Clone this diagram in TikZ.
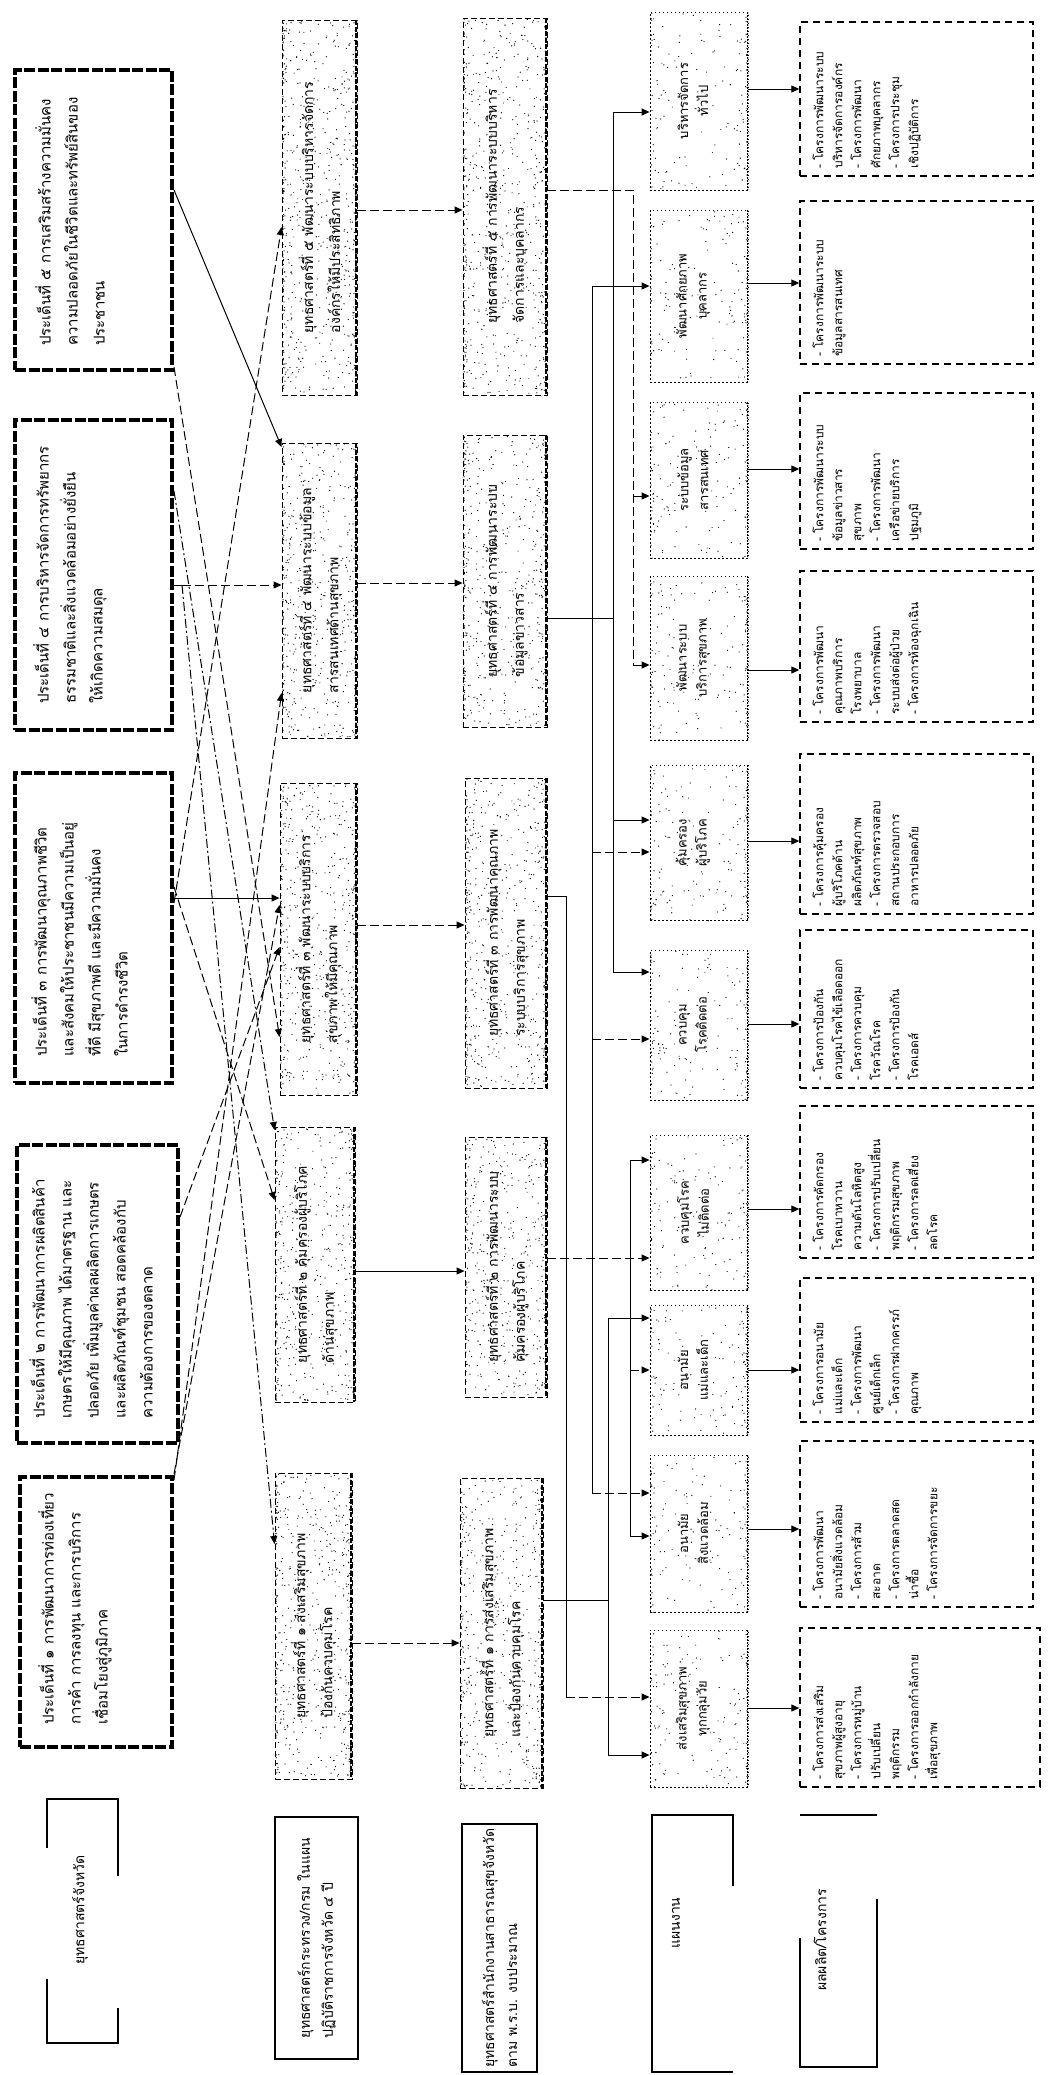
\documentclass[tikz,border=0pt]{standalone}
\usepackage{fontspec}
\newfontfamily\thai[Script=Thai]{Loma}
\usetikzlibrary{arrows.meta,fit,calc}
% random speckle inside a box: x1 y1 x2 y2 edge-count uniform-count
\newcommand\speckle[6]{%
  \foreach \i in {1,...,#5}{%
    \pgfmathsetmacro\gx{#1+(#3-#1)*rnd^3}\pgfmathsetmacro\gy{#2+(#4-#2)*rnd}%
    \fill (\gx,\gy) circle (0.65pt);
    \pgfmathsetmacro\gx{#3-(#3-#1)*rnd^3}\pgfmathsetmacro\gy{#2+(#4-#2)*rnd}%
    \fill (\gx,\gy) circle (0.65pt);}%
  \foreach \i in {1,...,#6}{%
    \pgfmathsetmacro\gx{#1+(#3-#1)*rnd}\pgfmathsetmacro\gy{#2+(#4-#2)*rnd}%
    \fill (\gx,\gy) circle (0.55pt);}%
}
\begin{document}
\begin{tikzpicture}[x=1pt,y=-1pt,
  r1/.style={draw, line width=4pt, dash pattern=on 11pt off 2.5pt, inner sep=0pt},
  r2/.style={draw, line width=0.9pt, dash pattern=on 6pt off 3pt, inner sep=0pt,
     path picture={\draw[line width=4pt, dash pattern=on 5pt off 1.5pt] (path picture bounding box.north east) -- (path picture bounding box.south east);}},
  r4/.style={draw, line width=0.9pt, dash pattern=on 1.5pt off 2.5pt, inner sep=0pt,
     path picture={\draw[line width=3pt, dash pattern=on 1.5pt off 1.5pt] (path picture bounding box.north east) -- (path picture bounding box.south east);}},
  r5/.style={draw, line width=1.4pt, dash pattern=on 7pt off 5pt, inner sep=0pt},
  lbl/.style={line width=1.2pt},
  lbox/.style={draw, line width=1.2pt, inner sep=0pt},
  t1/.style={rotate=90, align=left, inner sep=0pt, font=\thai\fontsize{15}{27}\selectfont},
  t2/.style={rotate=90, align=left, inner sep=0pt, font=\thai\fontsize{14}{27}\selectfont},
  t4/.style={rotate=90, align=center, inner sep=0pt, font=\thai\fontsize{13}{20}\selectfont},
  t5/.style={rotate=90, align=left, inner sep=0pt, font=\thai\fontsize{12}{19}\selectfont},
  tl/.style={rotate=90, align=center, inner sep=0pt, font=\thai\fontsize{14}{23}\selectfont},
  arr/.style={-{Triangle[length=8pt,width=7pt]}, line width=1pt},
  ln/.style={line width=1pt},
  dsh/.style={dash pattern=on 9pt off 4pt},
  dd/.style={dash pattern=on 9pt off 3pt on 2pt off 3pt}
]
\pgfmathsetseed{4242}
\useasboundingbox (0,0) rectangle (1050,2075);

% ---------- Row 1: provincial strategies ----------
\node[r1, fit={(15,70)(172,370)}] (b1) {};
\node[t1, anchor=north west] (b1t) at ($(b1.south west)+(22,-26)$)
 {ประเด็นที่ ๕ การเสริมสร้างความมั่นคง\\ความปลอดภัยในชีวิตและทรัพย์สินของ\\ประชาชน};
\node[r1, fit={(15,420)(172,730)}] (b2) {};
\node[t1, anchor=north west] (b2t) at ($(b2.south west)+(20,-28)$)
 {ประเด็นที่ ๔ การบริหารจัดการทรัพยากร\\ธรรมชาติและสิ่งแวดล้อมอย่างยั่งยืน\\ให้เกิดความสมดุล};
\node[r1, fit={(15,773)(172,1083)}] (b3) {};
\node[t1, anchor=north west] (b3t) at ($(b3.south west)+(18,-28)$)
 {ประเด็นที่ ๓ การพัฒนาคุณภาพชีวิต\\และสังคมให้ประชาชนมีความเป็นอยู่\\ที่ดี มีสุขภาพดี และมีความมั่นคง\\ในการดำรงชีวิต};
\node[r1, fit={(17,1145)(178,1443)}] (b4) {};
\node[t1, anchor=north west] (b4t) at ($(b4.south west)+(14,-26)$)
 {ประเด็นที่ ๒ การพัฒนาการผลิตสินค้า\\เกษตรให้มีคุณภาพ ได้มาตรฐาน และ\\ปลอดภัย เพิ่มมูลค่าผลผลิตการเกษตร\\และผลิตภัณฑ์ชุมชน สอดคล้องกับ\\ความต้องการของตลาด};
\node[r1, fit={(20,1477)(172,1747)}] (b5) {};
\node[t1, anchor=north west] (b5t) at ($(b5.south west)+(20,-24)$)
 {ประเด็นที่ ๑ การพัฒนาการท่องเที่ยว\\การค้า การลงทุน และการบริการ\\เชื่อมโยงสู่ภูมิภาค};

% ---------- Row 2 ----------
\node[r2, fit={(282,20)(357,395)}] (r2a) {};
\speckle{283}{21}{356}{394}{260}{110}
\node[t2] (r2at) at (r2a.center) {ยุทธศาสตร์ที่ ๕ พัฒนาระบบบริหารจัดการ\\องค์กรให้มีประสิทธิภาพ};
\node[r2, fit={(282,443)(357,738)}] (r2b) {};
\speckle{283}{444}{356}{737}{210}{90}
\node[t2] (r2bt) at (r2b.center) {ยุทธศาสตร์ที่ ๔ พัฒนาระบบข้อมูล\\สารสนเทศด้านสุขภาพ};
\node[r2, fit={(280,783)(357,1095)}] (r2c) {};
\speckle{281}{784}{356}{1094}{220}{95}
\node[t2] (r2ct) at (r2c.center) {ยุทธศาสตร์ที่ ๓ พัฒนาระบบบริการ\\สุขภาพให้มีคุณภาพ};
\node[r2, fit={(275,1127)(355,1402)}] (r2d) {};
\speckle{276}{1128}{354}{1401}{200}{85}
\node[t2] (r2dt) at (r2d.center) {ยุทธศาสตร์ที่ ๒ คุ้มครองผู้บริโภค\\ด้านสุขภาพ};
\node[r2, fit={(275,1473)(352,1779)}] (r2e) {};
\speckle{276}{1474}{351}{1778}{220}{95}
\node[t2] (r2et) at (r2e.center) {ยุทธศาสตร์ที่ ๑ ส่งเสริมสุขภาพ\\ป้องกันควบคุมโรค};

% ---------- Row 3 ----------
\node[r2, fit={(463,18)(547,395)}] (r3a) {};
\speckle{464}{19}{546}{394}{260}{110}
\node[t2] (r3at) at (r3a.center) {ยุทธศาสตร์ที่ ๕ การพัฒนาระบบบริหาร\\จัดการและบุคลากร};
\node[r2, fit={(463,435)(547,727)}] (r3b) {};
\speckle{464}{436}{546}{726}{210}{90}
\node[t2] (r3bt) at (r3b.center) {ยุทธศาสตร์ที่ ๔ การพัฒนาระบบ\\ข้อมูลข่าวสาร};
\node[r2, fit={(465,778)(547,1088)}] (r3c) {};
\speckle{466}{779}{546}{1087}{220}{95}
\node[t2] (r3ct) at (r3c.center) {ยุทธศาสตร์ที่ ๓ การพัฒนาคุณภาพ\\ระบบบริการสุขภาพ};
\node[r2, fit={(465,1137)(547,1397)}] (r3d) {};
\speckle{466}{1138}{546}{1396}{200}{85}
\node[t2] (r3dt) at (r3d.center) {ยุทธศาสตร์ที่ ๒ การพัฒนาระบบ\\คุ้มครองผู้บริโภค};
\node[r2, fit={(460,1478)(543,1788)}] (r3e) {};
\speckle{461}{1479}{542}{1787}{220}{95}
\node[t2] (r3et) at (r3e.center) {ยุทธศาสตร์ที่ ๑ การส่งเสริมสุขภาพ\\และป้องกันควบคุมโรค};

% ---------- Row 4 ----------
\foreach \n/\ya/\yb/\txt in {
  a/12/190/{บริหารจัดการ\\ทั่วไป},
  b/210/382/{พัฒนาศักยภาพ\\บุคลากร},
  c/402/558/{ระบบข้อมูล\\สารสนเทศ},
  d/576/740/{พัฒนาระบบ\\บริการสุขภาพ},
  e/765/920/{คุ้มครอง\\ผู้บริโภค},
  f/950/1100/{ควบคุม\\โรคติดต่อ},
  g/1135/1290/{ควบคุมโรค\\ไม่ติดต่อ},
  h/1305/1435/{อนามัย\\แม่และเด็ก},
  i/1455/1612/{อนามัย\\สิ่งแวดล้อม},
  j/1630/1787/{ส่งเสริมสุขภาพ\\ทุกกลุ่มวัย}}{
  \node[r4, fit={(650,\ya)(748,\yb)}] (r4\n) {};
  \speckle{651}{\ya+1}{747}{\yb-1}{55}{30}
  \node[t4] (r4\n t) at ($(r4\n.center)+(-6,0)$) {\txt};
}

% ---------- Row 5 ----------
\node[r5, fit={(800,22)(1033,176)}] (r5a) {};
\node[t5, anchor=north west] (r5at) at ($(r5a.south west)+(13,-8)$) {- โครงการพัฒนาระบบ\\บริหารจัดการองค์กร\\- โครงการพัฒนา\\ศักยภาพบุคลากร\\- โครงการประชุม\\เชิงปฏิบัติการ};
\node[r5, fit={(800,201)(1033,364)}] (r5b) {};
\node[t5, anchor=north west] (r5bt) at ($(r5b.south west)+(13,-8)$) {- โครงการพัฒนาระบบ\\ข้อมูลสารสนเทศ};
\node[r5, fit={(800,393)(1033,549)}] (r5c) {};
\node[t5, anchor=north west] (r5ct) at ($(r5c.south west)+(13,-8)$) {- โครงการพัฒนาระบบ\\ข้อมูลข่าวสาร\\สุขภาพ\\- โครงการพัฒนา\\เครือข่ายบริการ\\ปฐมภูมิ};
\node[r5, fit={(800,571)(1033,722)}] (r5d) {};
\node[t5, anchor=north west] (r5dt) at ($(r5d.south west)+(13,-8)$) {- โครงการพัฒนา\\คุณภาพบริการ\\โรงพยาบาล\\- โครงการพัฒนา\\ระบบส่งต่อผู้ป่วย\\- โครงการห้องฉุกเฉิน};
\node[r5, fit={(800,754)(1033,914)}] (r5e) {};
\node[t5, anchor=north west] (r5et) at ($(r5e.south west)+(13,-8)$) {- โครงการคุ้มครอง\\ผู้บริโภคด้าน\\ผลิตภัณฑ์สุขภาพ\\- โครงการตรวจสอบ\\สถานประกอบการ\\อาหารปลอดภัย};
\node[r5, fit={(800,930)(1033,1088)}] (r5f) {};
\node[t5, anchor=north west] (r5ft) at ($(r5f.south west)+(13,-8)$) {- โครงการป้องกัน\\ควบคุมโรคไข้เลือดออก\\- โครงการควบคุม\\โรควัณโรค\\- โครงการป้องกัน\\โรคเอดส์};
\node[r5, fit={(800,1106)(1033,1258)}] (r5g) {};
\node[t5, anchor=north west] (r5gt) at ($(r5g.south west)+(13,-8)$) {- โครงการคัดกรอง\\โรคเบาหวาน\\ความดันโลหิตสูง\\- โครงการปรับเปลี่ยน\\พฤติกรรมสุขภาพ\\- โครงการลดเสี่ยง\\ลดโรค};
\node[r5, fit={(800,1278)(1033,1422)}] (r5h) {};
\node[t5, anchor=north west] (r5ht) at ($(r5h.south west)+(13,-8)$) {- โครงการอนามัย\\แม่และเด็ก\\- โครงการพัฒนา\\ศูนย์เด็กเล็ก\\- โครงการฝากครรภ์\\คุณภาพ};
\node[r5, fit={(800,1441)(1033,1607)}] (r5i) {};
\node[t5, anchor=north west] (r5it) at ($(r5i.south west)+(13,-8)$) {- โครงการพัฒนา\\อนามัยสิ่งแวดล้อม\\- โครงการส้วม\\สะอาด\\- โครงการตลาดสด\\น่าซื้อ\\- โครงการจัดการขยะ};
\node[r5, fit={(800,1628)(1040,1787)}] (r5j) {};
\node[t5, anchor=north west] (r5jt) at ($(r5j.south west)+(13,-8)$) {- โครงการส่งเสริม\\สุขภาพผู้สูงอายุ\\- โครงการหมู่บ้าน\\ปรับเปลี่ยน\\พฤติกรรม\\- โครงการออกกำลังกาย\\เพื่อสุขภาพ};

% ---------- Row labels ----------
\draw[lbl] (47,1848) -- (47,1799) -- (118,1799) -- (118,1876);
\draw[lbl] (47,1979) -- (47,2043) -- (118,2043) -- (118,2008);
\node[tl] (l1) at (80,1910) {ยุทธศาสตร์จังหวัด};
\node[lbox, fit={(275,1817)(358,2059)}] (l2) {};
\node[tl, align=left] (l2t) at (l2.center) {ยุทธศาสตร์กระทรวง/กรม ในแผน\\ปฏิบัติราชการจังหวัด ๔ ปี};
\node[lbox, fit={(462,1824)(537,2072)}] (l3) {};
\node[tl, align=left] (l3t) at (l3.center) {ยุทธศาสตร์สำนักงานสาธารณสุขจังหวัด\\ตาม พ.ร.บ. งบประมาณ};
\draw[lbl] (733,1886) -- (733,1815) -- (652,1815) -- (652,2072) -- (733,2072);
\node[tl] (l4) at (676,1923) {แผนงาน};
\draw[lbl] (800,1938) -- (800,2067) -- (877,2067) -- (877,1899);
\draw[lbl] (800,1815) -- (877,1815);
\node[tl] (l5) at (820,1940) {ผลผลิต/โครงการ};

% ---------- Row 1 -> Row 2 ----------
\coordinate (e2) at (182,585);
\draw[arr] (b1.east |- 0,190) -- (r2b.west |- 0,447);
\draw[arr,dsh] (b1.east |- 0,367) -- (r2c.west |- 0,1037);
\draw[arr,dsh] (b3.east |- 0,903) -- (r2a.west |- 0,227);
\draw[ln,dsh] (b2.east |- e2) -- (e2);
\draw[arr,dsh] (e2) -- (r2b.west |- e2);
\draw[arr,dd] (e2) -- (r2e.west |- 0,1544);
\draw[arr] (b3.east |- 0,898) -- (r2c.west |- 0,898);
\draw[arr,dsh] (b5.east |- 0,1480) -- (r2b.west |- 0,693);
\draw[arr,dd] (b2.east |- 0,491) -- (r2d.west |- 0,1130);
\draw[arr,dsh] (b4.east |- 0,1217) -- (r2c.west |- 0,947);
\draw[arr,dsh] (b3.east |- 0,887) -- (r2d.west |- 0,1200);
\draw[arr,dsh] (b5.east |- 0,1474) -- (r2c.west |- 0,905);

% ---------- Row 2 -> Row 3 ----------
\draw[arr,dsh] (r2a.east |- 0,210) -- (r3a.west |- 0,210);
\draw[arr,dsh] (r2b.east |- 0,583) -- (r3b.west |- 0,583);
\draw[arr,dsh] (r2c.east |- 0,925) -- (r3c.west |- 0,925);
\draw[arr] (r2d.east |- 0,1271) -- (r3d.west |- 0,1271);
\draw[arr,dsh] (r2e.east |- 0,1643) -- (r3e.west |- 0,1643);

% ---------- Row 3 -> Row 4 buses ----------
\coordinate (jA1) at (633,190); \coordinate (jA2) at (633,496); \coordinate (jA3) at (633,665);
\draw[ln,dsh] (r3a.east |- jA1) -- (jA1) -- (jA3);
\draw[arr,dsh] (jA2) -- (r4c.west |- jA2);
\draw[arr,dsh] (jA3) -- (r4d.west |- jA3);

\coordinate (jB0) at (613,112); \coordinate (jB1) at (613,618); \coordinate (jB2) at (613,820); \coordinate (jB3) at (613,972);
\draw[ln] (r3b.east |- jB1) -- (jB1);
\draw[ln] (jB0) -- (jB3);
\draw[arr] (jB0) -- (r4a.west |- jB0);
\draw[arr] (jB2) -- (r4e.west |- jB2);
\draw[arr] (jB3) -- (r4f.west |- jB3);

\coordinate (jC0) at (592,286); \coordinate (jC1) at (592,852); \coordinate (jC2) at (592,1039); \coordinate (jC3) at (592,1493);
\draw[ln] (jC0) -- (jC3);
\draw[arr] (jC0) -- (r4b.west |- jC0);
\draw[arr,dsh] (jC1) -- (r4e.west |- jC1);
\draw[arr,dsh] (jC2) -- (r4f.west |- jC2);
\draw[arr,dsh] (jC3) -- (r4i.west |- jC3);

\coordinate (jD0) at (566,896); \coordinate (jD1) at (566,1697);
\draw[ln] (r3c.east |- jD0) -- (jD0) -- (jD1);
\draw[arr,dsh] (jD1) -- (r4j.west |- jD1);

\coordinate (jE0) at (630,1160); \coordinate (jE1) at (630,1258); \coordinate (jE2) at (630,1370); \coordinate (jE3) at (630,1536);
\draw[arr,dsh] (r3d.east |- jE1) -- (r4g.west |- jE1);
\draw[ln] (jE0) -- (jE3);
\draw[arr] (jE0) -- (r4g.west |- jE0);
\draw[arr,dsh] (jE2) -- (r4h.west |- jE2);
\draw[arr] (jE3) -- (r4i.west |- jE3);

\coordinate (jF0) at (608,1318); \coordinate (jF1) at (608,1600); \coordinate (jF2) at (608,1755);
\draw[ln] (r3e.east |- jF1) -- (jF1);
\draw[ln] (jF0) -- (jF2);
\draw[arr] (jF0) -- (r4h.west |- jF0);
\draw[arr] (jF2) -- (r4j.west |- jF2);

% ---------- Row 4 -> Row 5 ----------
\foreach \n/\yy in {a/89,b/283,c/469,d/670,e/841,f/1024,g/1209,h/1370,i/1529,j/1708}{
  \draw[arr] (r4\n.east |- 0,\yy) -- (r5\n.west |- 0,\yy);
}
\end{tikzpicture}
\end{document}
